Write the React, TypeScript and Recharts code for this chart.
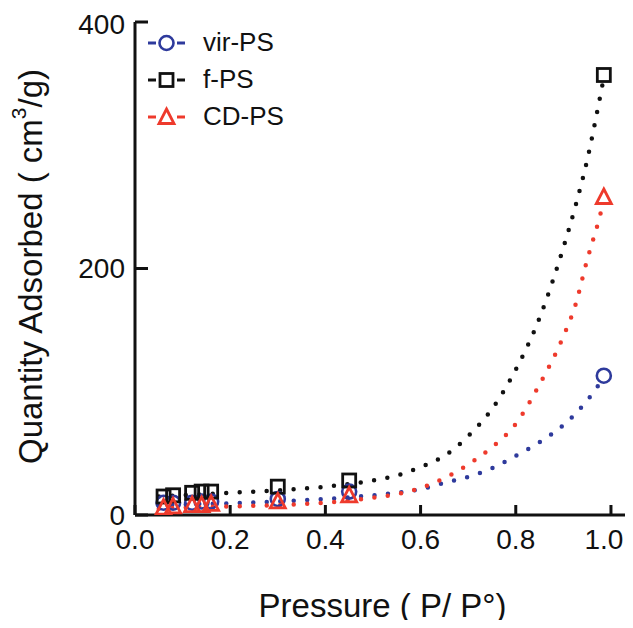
import React from 'react';
import { ComposedChart, XAxis, YAxis, Line, Scatter, Label } from 'recharts';

// measured points
const pressure = [0.06, 0.08, 0.12, 0.14, 0.16, 0.3, 0.45, 0.985];
const virPS = [10, 10, 10, 11, 11, 13, 19, 113];
const fPS = [15, 16, 18, 19, 19, 23, 28, 357];
const cdPS = [6, 7, 8, 8, 9, 11, 16, 258];

// fitted curves
const fitP = [0.05, 0.1, 0.2, 0.3, 0.4, 0.5, 0.55, 0.6, 0.65, 0.7, 0.75, 0.8, 0.85, 0.9, 0.925, 0.95, 0.975, 0.985];
const virFit = [8, 8.5, 9.5, 11, 13, 16, 18, 21, 26, 31, 38, 48, 59, 73, 82, 93, 106, 112];
const fFit = [15, 16, 18, 20, 23, 28, 32, 39, 48, 64, 86, 118, 160, 217, 250, 288, 335, 355];
const cdFit = [5, 6, 7, 8, 10, 14, 17, 22, 30, 41, 55, 74, 106, 145, 170, 207, 240, 255];

const xTicks = [0, 0.2, 0.4, 0.6, 0.8, 1.0];
const yTicks = [0, 200, 400];

const BLUE = '#2e3a9c';
const BLACK = '#111111';
const RED = '#ee3a2c';
const FONT = '"Liberation Sans", Arial, Helvetica, sans-serif';

const toPoints = (xs: number[], ys: number[]) => xs.map((x, i) => ({ x, y: ys[i] }));

const series = [
    { name: 'vir-PS', color: BLUE, marker: 'circle', points: virPS, fit: virFit },
    { name: 'f-PS', color: BLACK, marker: 'square', points: fPS, fit: fFit },
    { name: 'CD-PS', color: RED, marker: 'triangle', points: cdPS, fit: cdFit },
];

const Marker = ({ kind, cx, cy, color }: { kind: string; cx: number; cy: number; color: string }) => {
    if (kind === 'circle') {
        return <circle cx={cx} cy={cy} r={7} fill="none" stroke={color} strokeWidth={2.6} />;
    }
    if (kind === 'square') {
        return <rect x={cx - 6.5} y={cy - 6.5} width={13} height={13} fill="none" stroke={color} strokeWidth={2.8} />;
    }
    return (
        <polygon
            points={`${cx},${cy - 8} ${cx + 7.5},${cy + 6.5} ${cx - 7.5},${cy + 6.5}`}
            fill="none"
            stroke={color}
            strokeWidth={2.8}
            strokeLinejoin="miter"
        />
    );
};

// last label nudged left a little so it stays inside the frame
const XTick = ({ x, y, payload }: any) => (
    <text
        x={x - (payload.value === 1 ? 7 : 0)}
        y={y}
        dy="0.71em"
        textAnchor="middle"
        fontSize={28}
        fontFamily={FONT}
        fill="#111"
    >
        {Number(payload.value).toFixed(1)}
    </text>
);

const YLabel = ({ viewBox }: any) => {
    const cx = viewBox.x + 22;
    const cy = viewBox.y + viewBox.height / 2 - 2;
    return (
        <text
            x={cx}
            y={cy}
            transform={`rotate(-90 ${cx} ${cy})`}
            textAnchor="middle"
            dominantBaseline="central"
            fontSize={33}
            fontFamily={FONT}
            fill="#111"
        >
            <tspan>Quantity Adsorbed ( cm</tspan>
            <tspan fontSize={21} dy={-12}>3</tspan>
            <tspan dy={12}>/g)</tspan>
        </text>
    );
};

const LegendBox = () => (
    <div style={{ position: 'absolute', left: 138, top: 16, fontFamily: FONT, fontSize: 26, color: '#111' }}>
        {series.map(s => (
            <div key={s.name} style={{ display: 'flex', alignItems: 'center', height: 37 }}>
                <svg width={40} height={30}>
                    <line x1={2} y1={15} x2={10} y2={15} stroke={s.color} strokeWidth={3} />
                    <line x1={31} y1={15} x2={39} y2={15} stroke={s.color} strokeWidth={3} />
                    <Marker kind={s.marker} cx={20.5} cy={15} color={s.color} />
                </svg>
                <span style={{ marginLeft: 17 }}>{s.name}</span>
            </div>
        ))}
    </div>
);

export default function App() {
    return (
        <div style={{ position: 'relative', width: 617, height: 620, marginBottom: -8 }}>
            <ComposedChart width={625} height={620} margin={{ top: 14, right: 3, left: 0, bottom: 0 }}>
                <XAxis
                    dataKey="x"
                    type="number"
                    domain={[0, 1.04]}
                    ticks={xTicks}
                    allowDataOverflow
                    interval={0}
                    height={113}
                    tickSize={-10}
                    tickMargin={24}
                    axisLine={{ stroke: '#111', strokeWidth: 3 }}
                    tickLine={{ stroke: '#111', strokeWidth: 3 }}
                    tick={<XTick />}
                >
                    <Label
                        value="Pressure ( P/ P°)"
                        position="insideBottom"
                        offset={11}
                        style={{ fontSize: 33, fontFamily: FONT, fill: '#111' }}
                    />
                </XAxis>
                <XAxis
                    xAxisId="top"
                    orientation="top"
                    type="number"
                    domain={[0, 1.04]}
                    height={0}
                    tick={false}
                    tickLine={false}
                    axisLine={{ stroke: '#111', strokeWidth: 3 }}
                />
                <YAxis
                    type="number"
                    domain={[0, 400]}
                    ticks={yTicks}
                    allowDataOverflow
                    width={127}
                    tickSize={-13}
                    tickMargin={23}
                    axisLine={{ stroke: '#111', strokeWidth: 3 }}
                    tickLine={{ stroke: '#111', strokeWidth: 3 }}
                    tick={{ fill: '#111', fontSize: 28, fontFamily: FONT }}
                    label={<YLabel />}
                />
                <YAxis
                    yAxisId="right"
                    orientation="right"
                    type="number"
                    domain={[0, 400]}
                    width={0}
                    tick={false}
                    tickLine={false}
                    axisLine={{ stroke: '#111', strokeWidth: 3 }}
                />
                {series.map(s => (
                    <Line
                        key={`fit-${s.name}`}
                        data={toPoints(fitP, s.fit)}
                        dataKey="y"
                        type="monotone"
                        stroke={s.color}
                        strokeWidth={4.5}
                        strokeDasharray="0 13.5"
                        strokeLinecap="round"
                        dot={false}
                        activeDot={false}
                        isAnimationActive={false}
                        legendType="none"
                    />
                ))}
                {series.map(s => (
                    <Scatter
                        key={`pts-${s.name}`}
                        name={s.name}
                        data={toPoints(pressure, s.points)}
                        dataKey="y"
                        isAnimationActive={false}
                        shape={(p: any) => <Marker kind={s.marker} cx={p.cx} cy={p.cy} color={s.color} />}
                    />
                ))}
            </ComposedChart>
            <LegendBox />
        </div>
    );
}
